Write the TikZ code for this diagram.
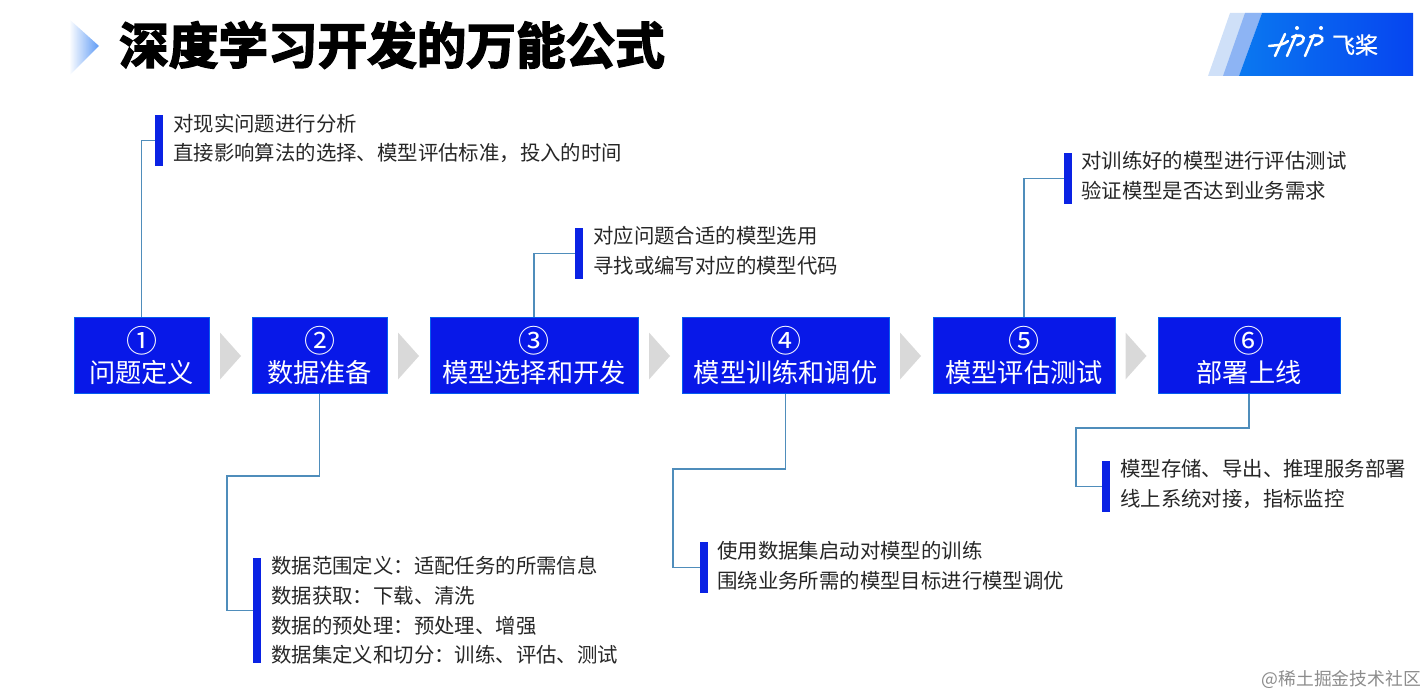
\documentclass[tikz,border=0pt]{standalone}
\usepackage{fontspec}
\usetikzlibrary{calc}
\setmainfont{Noto Sans CJK SC}
\newfontfamily\titlefont[FakeBold=3.2]{Noto Sans CJK SC Bold}
\newfontfamily\logofont[FakeBold=0.7]{Noto Sans CJK SC}
\newcommand{\cnum}[1]{\raisebox{-2pt}{\fontsize{31}{32}\selectfont #1}}
\definecolor{boxblue}{HTML}{0818E8}
\definecolor{barblue}{HTML}{0A22E4}
\definecolor{linkblue}{HTML}{4F8DBB}
\definecolor{chevgray}{HTML}{D9D9D9}
\definecolor{bodytext}{HTML}{262626}
\definecolor{logomain}{HTML}{0A78F0}
\definecolor{logoend}{HTML}{0645F0}
\definecolor{logolight}{HTML}{CFE0F8}
\definecolor{logomid}{HTML}{8DB4F4}
\definecolor{arrowblue}{HTML}{5F9BF5}
\tikzset{
  x=1pt,y=-1pt,
  stepbox/.style={fill=boxblue,draw=boxblue!70!cyan,line width=0.6pt,text=white,inner sep=0pt,align=center,font=\fontsize{26.2}{32}\selectfont,minimum height=76pt},
  chev/.style={fill=chevgray,draw=none},
  bar/.style={fill=barblue,draw=none,inner sep=0pt,minimum width=8pt},
  link/.style={draw=linkblue,line width=1.2pt},
  note/.style={anchor=west,inner sep=0pt,align=left,text=bodytext,font=\fontsize{20.4}{29.6}\selectfont},
  logoline/.style={white,line width=2.5pt,line cap=round},
}
\begin{document}
\begin{tikzpicture}
\useasboundingbox (0,0) rectangle (1427,695);
% title chevron
\begin{scope}
\clip (69,19) -- (99,46) -- (69,76) -- cycle;
\shade[left color=white,right color=arrowblue] (69,19) rectangle (99,76);
\end{scope}
\node[anchor=west,inner sep=0pt,font=\titlefont\fontsize{49.6}{56}\selectfont] (title) at (119,45) {深度学习开发的万能公式};
% logo
\fill[logolight] (1208,76) -- (1230,13) -- (1262,13) -- (1239,76) -- cycle;
\fill[logomid] (1223,76) -- (1245,13) -- (1262,13) -- (1239,76) -- cycle;
\shade[left color=logomain,right color=logoend] (1239,76) -- (1262,13) -- (1413,13) -- (1413,76) -- cycle;
\draw[logoline] (1269,46) -- (1279,45) .. controls (1284,44) and (1287,42) .. (1288,41);
\draw[logoline] (1275,56) -- (1285,34);
\draw[logoline] (1287,56) -- (1296,35);
\draw[logoline] (1292,37) .. controls (1300,34) and (1306,36) .. (1303,41) .. controls (1302,43) and (1300,44) .. (1297,45);
\draw[logoline] (1305,56) -- (1314,35);
\draw[logoline] (1310,37) .. controls (1318,34) and (1324,36) .. (1322,41) .. controls (1321,43) and (1318,44) .. (1315,45);
\fill[white] (1297,28) circle (2) (1321,28) circle (2);
\node[text=white,inner sep=0pt,font=\logofont\fontsize{23}{23}\selectfont] (logotext) at (1355,45) {飞桨};
% step boxes
\node[stepbox,minimum width=135pt] (s1) at (141.5,355.7) {\cnum{①}\\问题定义};
\node[stepbox,minimum width=135pt] (s2) at (319.5,355.7) {\cnum{②}\\数据准备};
\node[stepbox,minimum width=208pt] (s3) at (534,355.7) {\cnum{③}\\模型选择和开发};
\node[stepbox,minimum width=207pt] (s4) at (785.5,355.7) {\cnum{④}\\模型训练和调优};
\node[stepbox,minimum width=182pt] (s5) at (1024,355.7) {\cnum{⑤}\\模型评估测试};
\node[stepbox,minimum width=182pt] (s6) at (1249,355.7) {\cnum{⑥}\\部署上线};
% chevrons
\foreach \cx in {220,398,649,900,1125.5}{
  \fill[chev] (\cx,332.5) -- (\cx+21,356) -- (\cx,379.5) -- cycle;
}
% bars
\node[bar,minimum height=51pt] (b1) at (159,140.5) {};
\node[bar,minimum height=105pt] (b2) at (257,610.5) {};
\node[bar,minimum height=51pt] (b3) at (579,253.5) {};
\node[bar,minimum height=51pt] (b4) at (704,567.5) {};
\node[bar,minimum height=51pt] (b5) at (1068,178.5) {};
\node[bar,minimum height=51pt] (b6) at (1106,486.5) {};
% connectors
\draw[link] (s1.north) |- (b1.west);
\draw[link] (s3.north) |- (b3.west);
\draw[link] (s5.north) |- (b5.west);
\coordinate (k2a) at (320,476);
\coordinate (k2b) at (227,476);
\draw[link] (s2.south) -- (s2.south |- k2a) -- (k2b) |- (b2.west);
\coordinate (k4b) at (673,469);
\draw[link] (s4.south) -- (s4.south |- k4b) -- (k4b) |- (b4.west);
\coordinate (k6b) at (1076,428);
\draw[link] (s6.south) -- (s6.south |- k6b) -- (k6b) |- (b6.west);
% notes
\node[note] (n1) at (173,138.5) {对现实问题进行分析\\直接影响算法的选择、模型评估标准，投入的时间};
\node[note] (n2) at (271,610.5) {数据范围定义：适配任务的所需信息\\数据获取：下载、清洗\\数据的预处理：预处理、增强\\数据集定义和切分：训练、评估、测试};
\node[note] (n3) at (593,251) {对应问题合适的模型选用\\寻找或编写对应的模型代码};
\node[note] (n4) at (717,565.5) {使用数据集启动对模型的训练\\围绕业务所需的模型目标进行模型调优};
\node[note] (n5) at (1081,176) {对训练好的模型进行评估测试\\验证模型是否达到业务需求};
\node[note] (n6) at (1120,484) {模型存储、导出、推理服务部署\\线上系统对接，指标监控};
\node[anchor=east,inner sep=0pt,text=black!45,font=\fontsize{17.8}{20}\selectfont] (wm) at (1421,679) {@稀土掘金技术社区};
\end{tikzpicture}
\end{document}
